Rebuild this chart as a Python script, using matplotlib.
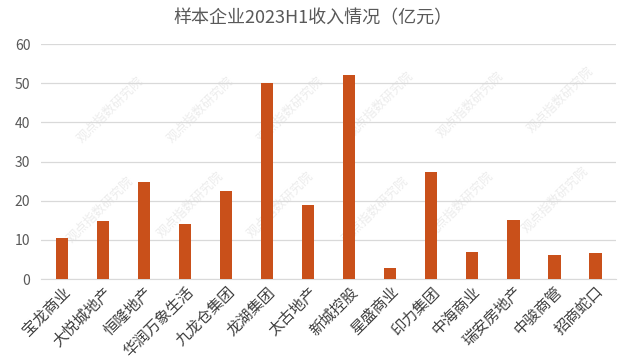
import numpy as np
import matplotlib.pyplot as plt

plt.rcParams['font.family'] = ['Noto Sans CJK SC', 'DejaVu Sans']

companies = ['宝龙商业', '大悦城地产', '恒隆地产', '华润万象生活', '九龙仓集团', '龙湖集团', '太古地产',
             '新城控股', '星盛商业', '印力集团', '中海商业', '瑞安房地产', '中骏商管', '招商蛇口']
revenue = [10.5, 14.9, 24.9, 14.1, 22.4, 50.0, 18.9, 52.1, 2.9, 27.4, 7.0, 15.1, 6.1, 6.7]
yticks = [0, 10, 20, 30, 40, 50, 60]

fig = plt.figure(figsize=(6.27, 3.64), dpi=100)
ax = fig.add_axes([0.066, 0.233, 0.916, 0.646])
ax.patch.set_alpha(0)

x = np.arange(len(companies))
ax.bar(x, revenue, width=0.31, color='#C9501A', zorder=3)

ax.set_xlim(-0.5, len(companies) - 0.5)
ax.set_ylim(0, 60)
ax.set_yticks(yticks)
ax.grid(axis='y', color='#d9d9d9', linewidth=0.9, zorder=0)
ax.tick_params(axis='y', length=0, labelsize=10, labelcolor='#595959', pad=8)
ax.tick_params(axis='x', length=0, labelsize=11, labelcolor='#404040', pad=3)
ax.set_xticks(x)
ax.set_xticklabels(companies, rotation=45, ha='right', rotation_mode='anchor')
for s in ax.spines.values():
    s.set_visible(False)
ax.spines['bottom'].set_visible(True)
ax.spines['bottom'].set_color('#d9d9d9')

fig.text(0.5, 0.95, '样本企业2023H1收入情况（亿元）', ha='center', va='center',
         fontsize=13, color='#595959')

# faint watermark behind the bars
for wx, wy in [(110, 110), (200, 110), (290, 110), (380, 105), (470, 105), (560, 100),
               (100, 210), (190, 205), (280, 205), (375, 210), (460, 205), (555, 200)]:
    fig.text(wx / 627, 1 - wy / 364, '观点指数研究院', ha='center', va='center', rotation=45,
             fontsize=9, color='#ececec', zorder=-1)

plt.savefig('out.png', dpi=100)
